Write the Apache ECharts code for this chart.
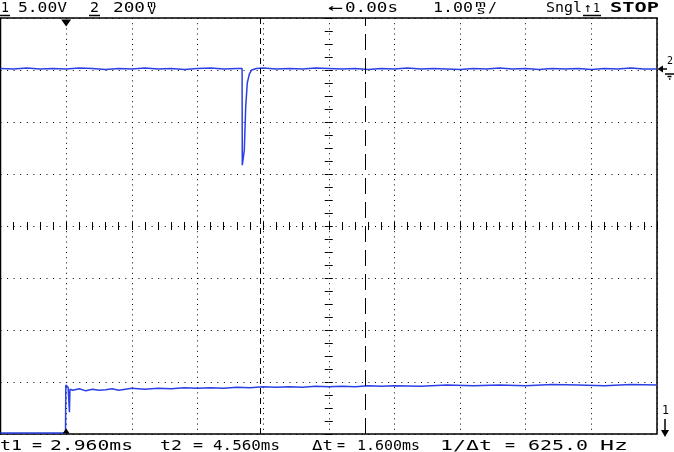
<!DOCTYPE html>
<html>
<head>
<meta charset="utf-8">
<script src="https://cdn.jsdelivr.net/npm/echarts@6/dist/echarts.min.js"></script>
<style>
  html, body { margin: 0; padding: 0; background: #fff; }
  #scope { width: 674px; height: 452px; }
</style>
</head>
<body>
<div id="scope"></div>
<script>
// time in ms, amplitude in screen divisions (0 = centre)
const ch2T = [-1.0, -0.8, -0.6, -0.4, -0.2, 0.0, 0.2, 0.4, 0.6, 0.8, 1.0, 1.2, 1.4, 1.6, 1.8, 2.0, 2.2, 2.4, 2.6, 2.68,
  2.683, 2.70, 2.714, 2.735, 2.759, 2.79, 2.826, 2.9, 3.0, 3.2, 3.4, 3.6, 3.8, 4.0, 4.2, 4.4, 4.6, 4.8, 5.0,
  5.2, 5.4, 5.6, 5.8, 6.0, 6.2, 6.4, 6.6, 6.8, 7.0, 7.2, 7.4, 7.6, 7.8, 8.0, 8.2, 8.4, 8.6, 8.8, 9.0];
const ch2V = [3.03, 3.02, 3.04, 3.02, 3.03, 3.02, 3.04, 3.03, 3.01, 3.03, 3.02, 3.04, 3.02, 3.03, 3.01, 3.03, 3.04, 3.02, 3.03, 3.03,
  1.17, 1.17, 1.46, 2.29, 2.75, 2.92, 3.0, 3.03, 3.04, 3.02, 3.03, 3.02, 3.04, 3.03, 3.02, 3.03, 3.01, 3.03, 3.02,
  3.04, 3.02, 3.03, 3.02, 3.01, 3.03, 3.02, 3.04, 3.02, 3.03, 3.01, 3.03, 3.02, 3.03, 3.01, 3.03, 3.02, 3.04, 3.02, 3.02];

const ch1T = [-1.0, -0.01, -0.005, 0.03, 0.045, 0.05, 0.058, 0.1, 0.2, 0.3, 0.4, 0.5, 0.6, 0.7, 0.8, 0.9, 1.0, 1.2, 1.4,
  1.6, 1.8, 2.0, 2.2, 2.4, 2.6, 2.8, 3.0, 3.2, 3.4, 3.6, 3.8, 4.0, 4.2, 4.4, 4.6, 4.8, 5.0, 5.4, 5.8, 6.2, 6.6,
  7.0, 7.4, 7.8, 8.2, 8.6, 9.0];
const ch1V = [-3.98, -3.98, -3.06, -3.10, -3.13, -3.58, -3.14, -3.16, -3.13, -3.17, -3.14, -3.16, -3.15, -3.13, -3.16, -3.14, -3.12, -3.14, -3.12,
  -3.13, -3.11, -3.12, -3.11, -3.12, -3.10, -3.11, -3.09, -3.10, -3.09, -3.10, -3.08, -3.09, -3.08, -3.09, -3.07, -3.08, -3.07, -3.08, -3.06, -3.07, -3.06,
  -3.07, -3.05, -3.06, -3.07, -3.05, -3.06];

const t1 = 2.96;
const t2 = 4.56;
const trigT = 0;

const traceColor = '#2b40e4';
const zip = (a, b) => a.map((v, i) => [v, b[i]]);

const chart = echarts.init(document.getElementById('scope'), null, { renderer: 'canvas' });

// text helper: stretch a monospace string to the span it takes on the scope screen
const ctx = document.createElement('canvas').getContext('2d');
function txt(s, x0, x1, yc, size, bold) {
  const font = (bold ? 'bold ' : '') + size + 'px "DejaVu Sans Mono"';
  ctx.font = font;
  const w = ctx.measureText(s).width;
  return {
    type: 'text', x: x0, y: yc, scaleX: (x1 - x0) / w, silent: true,
    style: { text: s, font: font, fill: '#000', align: 'left', verticalAlign: 'middle' }
  };
}
function bar(x0, x1, y, w) {
  return { type: 'line', silent: true, shape: { x1: x0, y1: y, x2: x1, y2: y }, style: { stroke: '#000', lineWidth: w || 1.5 } };
}
function vbar(x, y0, y1, w) {
  return { type: 'line', silent: true, shape: { x1: x, y1: y0, x2: x, y2: y1 }, style: { stroke: '#000', lineWidth: w || 1.5 } };
}
function tri(points) {
  return { type: 'polygon', silent: true, shape: { points: points }, style: { fill: '#000' } };
}

const dotsV = { color: '#000', width: 1, type: [1, 4.2] };
const dotsH = { color: '#000', width: 1, type: [1, 5.57] };
const tick = { show: true, length: 4, lineStyle: { color: '#000', width: 1 } };

const option = {
  animation: false,
  backgroundColor: '#fff',
  grid: { left: 0.5, top: 18, width: 656.5, height: 416, show: true, borderColor: '#000', borderWidth: 1.5, backgroundColor: '#fff' },
  xAxis: [
    {
      type: 'value', min: -1, max: 9, interval: 1, position: 'bottom', offset: -208,
      axisLine: { show: false }, axisLabel: { show: false },
      axisTick: tick, minorTick: { show: true, splitNumber: 5, length: 4, lineStyle: { color: '#000' } },
      splitLine: { show: true, lineStyle: dotsV }
    },
    {
      type: 'value', min: -1, max: 9, interval: 1, position: 'top', offset: -208,
      axisLine: { show: false }, axisLabel: { show: false },
      axisTick: tick, minorTick: { show: true, splitNumber: 5, length: 4, lineStyle: { color: '#000' } },
      splitLine: { show: false }
    }
  ],
  yAxis: [
    {
      type: 'value', min: -4, max: 4, interval: 1, position: 'left', offset: -328.25,
      axisLine: { show: false }, axisLabel: { show: false },
      axisTick: tick, minorTick: { show: true, splitNumber: 4, length: 4, lineStyle: { color: '#000' } },
      splitLine: { show: true, lineStyle: dotsH }
    },
    {
      type: 'value', min: -4, max: 4, interval: 1, position: 'right', offset: -328.25,
      axisLine: { show: false }, axisLabel: { show: false },
      axisTick: tick, minorTick: { show: true, splitNumber: 4, length: 4, lineStyle: { color: '#000' } },
      splitLine: { show: false }
    }
  ],
  series: [
    {
      name: 'CH2', type: 'line', data: zip(ch2T, ch2V), showSymbol: false, clip: true,
      lineStyle: { color: traceColor, width: 1.5 },
      markLine: {
        silent: true, symbol: ['none', 'none'], label: { show: false },
        data: [
          { xAxis: t1, lineStyle: { color: '#000', width: 1, type: [6, 4] } },
          { xAxis: t2, lineStyle: { color: '#000', width: 1, type: [16, 8] } }
        ]
      },
      markPoint: {
        silent: true, label: { show: false },
        data: [
          { coord: [trigT, 4], symbol: 'triangle', symbolRotate: 180, symbolSize: [10, 7], symbolOffset: [0, 5], itemStyle: { color: '#000' } },
          { coord: [trigT, -4], symbol: 'triangle', symbolSize: [7, 5], symbolOffset: [0, -3], itemStyle: { color: '#000' } }
        ]
      }
    },
    {
      name: 'CH1', type: 'line', data: zip(ch1T, ch1V), showSymbol: false, clip: true,
      lineStyle: { color: traceColor, width: 1.5 }
    }
  ],
  graphic: [
    // status line
    txt('1', 1, 9, 8.5, 14), bar(0, 10, 15.5),
    txt('5.00V', 18, 67, 8.5, 14),
    txt('2', 90, 99, 8.5, 14), bar(89, 100, 15.5),
    txt('200', 113, 145, 8.5, 14),
    txt('m', 147, 156, 5, 8), txt('V', 148, 156, 11.5, 10),
    txt('←', 328, 343, 8.5, 14), txt('0.00s', 345, 398, 8.5, 14),
    txt('1.00', 433, 473, 8.5, 14),
    txt('m', 475, 486, 4.5, 8), txt('s', 476, 486, 11.5, 10),
    txt('/', 488, 497, 8.5, 14),
    txt('Sngl', 546, 582, 8.5, 14),
    txt('↑', 584, 592, 8.5, 13), txt('1', 593, 600, 8.5, 13), bar(583, 601, 15.5),
    txt('STOP', 610, 659, 8.5, 14, true),
    // channel reference markers
    tri([[657.5, 69], [663, 65.5], [663, 72.5]]), bar(662, 667, 69, 1.5),
    txt('2', 667, 673, 61, 10),
    bar(665, 674, 74), bar(667.5, 671.5, 76.5), bar(669, 670.5, 79),
    txt('1', 662, 669, 411, 13),
    vbar(665, 419, 431), tri([[661, 430], [669, 430], [665, 437]]),
    // cursor readout
    txt('t1', 0, 22, 446.5, 14), txt('=', 32, 42, 446.5, 14), txt('2.960ms', 50, 133, 446.5, 14),
    txt('t2', 160, 182, 446.5, 14), txt('=', 193, 203, 446.5, 14), txt('4.560ms', 213, 280, 446.5, 14),
    txt('Δt', 312, 333, 446.5, 14), txt('=', 337, 345, 446.5, 14), txt('1.600ms', 357, 420, 446.5, 14),
    txt('1/Δt', 440, 492, 446.5, 14), txt('=', 505, 515, 446.5, 14), txt('625.0', 528, 588, 446.5, 14), txt('Hz', 600, 628, 446.5, 14)
  ]
};

chart.setOption(option);
</script>
</body>
</html>
